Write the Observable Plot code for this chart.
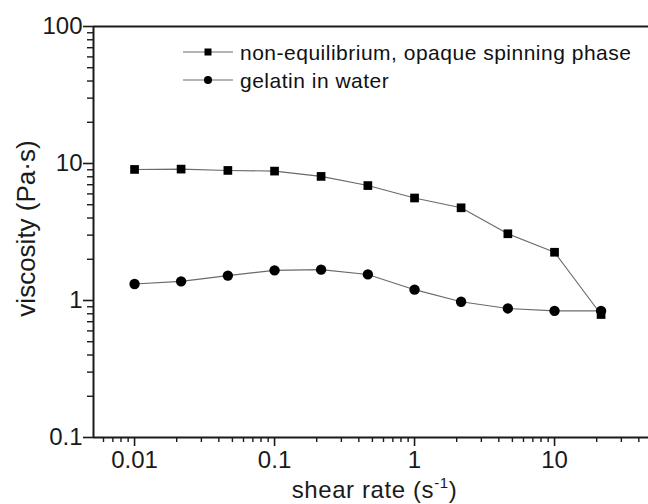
<!DOCTYPE html>
<html><head><meta charset="utf-8">
<script src="https://cdn.jsdelivr.net/npm/d3@7"></script>
<script src="https://cdn.jsdelivr.net/npm/@observablehq/plot@0.6"></script>
<style>
body{margin:0;background:#fff;}
#wrap{position:relative;width:648px;height:504px;}
</style></head><body><div id="wrap"></div>
<script>
const shearRate = [0.01, 0.0215, 0.0464, 0.1, 0.215, 0.464, 1, 2.15, 4.64, 10, 21.5];
const nonEquilibrium = [9.05, 9.1, 8.9, 8.8, 8.05, 6.9, 5.6, 4.75, 3.07, 2.25, 0.79];
const gelatinInWater = [1.32, 1.38, 1.52, 1.66, 1.68, 1.55, 1.2, 0.98, 0.875, 0.84, 0.84];
const seriesNames = ["non-equilibrium, opaque spinning phase", "gelatin in water"];
const seriesSymbols = ["square", "circle"];
const xMajorTicks = [0.01, 0.1, 1, 10];
const yMajorTicks = [0.1, 1, 10, 100];
const xTickLabels = ["0.01", "0.1", "1", "10"];
const yTickLabels = ["0.1", "1", "10", "100"];
const xLabelMain = "shear rate (s", xLabelSup = "-1", xLabelEnd = ")";
const yLabel = "viscosity (Pa·s)";

const FONT = '"Liberation Sans", Arial, Helvetica, sans-serif';
const W = 648, H = 504, mL = 93, mT = 26, mB = 67, mR = 0;
const xDomain = [0.00509, 46.9];
const yDomain = [0.1, 100];

const minorX = [0.001, 0.01, 0.1, 1, 10].flatMap(d => [2,3,4,5,6,7,8,9].map(k => +(d*k).toPrecision(3))).filter(v => v >= xDomain[0] && v <= xDomain[1]);
const minorY = [0.1, 1, 10].flatMap(d => [2,3,4,5,6,7,8,9].map(k => +(d*k).toPrecision(3)));

const rows = shearRate.flatMap((x, i) => [
  {x, y: nonEquilibrium[i], s: seriesNames[0]},
  {x, y: gelatinInWater[i], s: seriesNames[1]}
]);

const axisColor = "#1a1a1a";
const lineColor = "#6a6a6a";

const chart = Plot.plot({
  width: W, height: H,
  marginLeft: mL, marginTop: mT, marginBottom: mB, marginRight: mR,
  style: {fontFamily: FONT, fontSize: "24px", color: axisColor, background: "white", overflow: "visible"},
  x: {type: "log", domain: xDomain, label: null},
  y: {type: "log", domain: yDomain, label: null},
  marks: [
    Plot.axisX(minorX, {tickSize: 5, strokeWidth: 1.4, tickFormat: () => "", label: null}),
    Plot.axisY(minorY, {tickSize: 6, strokeWidth: 1.4, tickFormat: () => "", label: null}),
    Plot.axisX(xMajorTicks, {tickSize: 9, strokeWidth: 1.6, tickPadding: 4, tickFormat: (d) => xTickLabels[xMajorTicks.indexOf(d)], label: null}),
    Plot.axisY(yMajorTicks, {tickSize: 10, strokeWidth: 1.6, tickPadding: 1, tickFormat: (d) => yTickLabels[yMajorTicks.indexOf(d)], label: null}),
    Plot.ruleY([yDomain[0], yDomain[1]], {stroke: axisColor, strokeWidth: 2}),
    Plot.ruleX([xDomain[0]], {stroke: axisColor, strokeWidth: 2}),
    Plot.line(rows, {x: "x", y: "y", z: "s", stroke: lineColor, strokeWidth: 1.1}),
    Plot.dot(rows.filter(d => d.s === seriesNames[0]), {x: "x", y: "y", symbol: "square", r: 4.9, fill: "#000", stroke: "none"}),
    Plot.dot(rows.filter(d => d.s === seriesNames[1]), {x: "x", y: "y", symbol: "circle", r: 5.2, fill: "#000", stroke: "none"})
  ]
});

const svg = d3.select(chart);
svg.selectAll('g[aria-label="x-axis tick label"], g[aria-label="y-axis tick label"]')
  .attr("font-size", null).style("font-size", "24px").attr("fill", axisColor);

// axis titles
const xt = svg.append("text")
  .attr("x", (mL + W - mR) / 2 + 4).attr("y", 498)
  .attr("text-anchor", "middle")
  .attr("font-family", FONT).style("font-size", "24px").attr("letter-spacing", 0.6).attr("fill", axisColor);
xt.append("tspan").text(xLabelMain);
xt.append("tspan").style("font-size", "15px").attr("dy", -10).text(xLabelSup);
xt.append("tspan").attr("dy", 10).text(xLabelEnd);

svg.append("text")
  .attr("transform", `translate(35, ${(mT + H - mB) / 2 - 3}) rotate(-90)`)
  .attr("text-anchor", "middle")
  .attr("font-family", FONT).style("font-size", "26px").attr("fill", axisColor)
  .text(yLabel);

// legend
const lg = svg.append("g").attr("font-family", FONT).style("font-size", "21px").attr("letter-spacing", 0.5).attr("text-anchor", "start");
seriesNames.forEach((name, i) => {
  const cy = 52 + i * 28;
  const g = lg.append("g").attr("transform", `translate(0, ${cy})`);
  g.append("line").attr("x1", 183).attr("x2", 233).attr("y1", 0).attr("y2", 0).attr("stroke", lineColor).attr("stroke-width", 1.1);
  if (seriesSymbols[i] === "square") g.append("rect").attr("x", 204.5).attr("y", -3.5).attr("width", 7).attr("height", 7).attr("fill", "#000");
  else g.append("circle").attr("cx", 208).attr("cy", 0).attr("r", 4).attr("fill", "#000");
  g.append("text").attr("x", 240).attr("y", 7.5).attr("text-anchor", "start").attr("fill", "#111").text(name);
});

document.getElementById("wrap").appendChild(chart);
</script></body></html>
